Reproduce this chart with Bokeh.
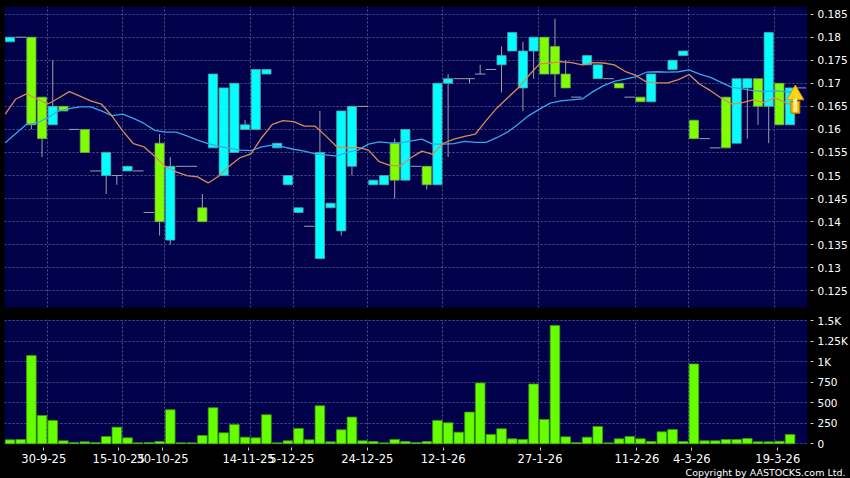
from bokeh.plotting import figure
from bokeh.layouts import column
from bokeh.models import Range1d, FixedTicker, Title, BoxAnnotation
from bokeh.embed import file_html
from bokeh.resources import INLINE

nan = float("nan")
opens = [.179,.18,.18,.167,.161,.165,.16,.16,.151,.15,.15,.151,.151,.142,.157,.136,.152,.152,.143,.156,
         .15,.155,.16,.16,.172,.156,.148,.142,.139,.132,.143,.138,.152,.165,.148,.148,.157,.149,.152,.152,
         .148,.17,.171,.171,.172,.173,.174,.177,.169,.177,.18,.178,.172,.167,.174,.171,.171,.17,.167,.167,
         .166,nan,.173,.176,.162,.158,.156,.167,.157,.169,.171,.165,.17,.161,.169]
closes = [.18,.18,.161,.158,.165,.164,.16,.155,.151,.155,.15,.152,.151,.142,.14,.152,.152,.152,.14,.172,
          .169,.17,.161,.173,.173,.157,.15,.143,.139,.155,.144,.164,.165,.165,.149,.15,.149,.16,.152,.148,
          .17,.171,.171,.171,.172,.173,.176,.181,.177,.18,.172,.172,.169,.167,.176,.174,.171,.169,.167,.166,
          .172,nan,.175,.177,.158,.158,.156,.156,.171,.171,.165,.181,.161,.169,.169]
highs = [.18,.18,.18,.167,.175,.165,.16,.16,.151,.155,.15,.152,.151,.142,.159,.154,.152,.152,.146,.172,
         .169,.17,.162,.173,.173,.157,.15,.143,.139,.164,.144,.164,.165,.165,.149,.15,.158,.16,.152,.152,
         .17,.172,.171,.171,.174,.173,.178,.181,.179,.18,.18,.184,.175,.167,.176,.174,.171,.17,.167,.167,
         .172,nan,.175,.177,.162,.158,.156,.167,.171,.171,.171,.181,.17,.169,.169]
lows = [.179,.18,.16,.154,.161,.164,.16,.155,.151,.146,.148,.151,.151,.142,.137,.135,.152,.152,.14,.156,
        .15,.155,.16,.16,.172,.156,.148,.142,.139,.132,.143,.137,.15,.165,.148,.148,.145,.149,.152,.147,
        .148,.154,.171,.17,.172,.173,.168,.177,.164,.171,.172,.167,.169,.167,.174,.171,.171,.169,.167,.166,
        .166,nan,.173,.176,.158,.158,.156,.156,.157,.158,.161,.157,.161,.161,.169]
ma_fast = [.1633,.1666,.1677,.1666,.1655,.1668,.1682,.1672,.1662,.1655,.1629,.1597,.1569,.1562,.1542,.1519,
           .1508,.1500,.1497,.1484,.1499,.1521,.1539,.1547,.1582,.1611,.1619,.1617,.1607,.1607,.1586,.1563,
           .1560,.1561,.1555,.1530,.1522,.1521,.1539,.1553,.1546,.1570,.1579,.1585,.1590,.1619,.1646,.1668,
           .1690,.1717,.1742,.1744,.1747,.1745,.1740,.1745,.1744,.1740,.1726,.1717,.1703,.1701,.1701,.1708,
           .1719,.1698,.1684,.1668,.1655,.1658,.1664,.1658,.1669,.1658,.1651]
ma_slow = [.1571,.1591,.1611,.1614,.1626,.1640,.1645,.1649,.1649,.1640,.1630,.1633,.1624,.1613,.1598,.1594,
           .1594,.1586,.1577,.1569,.1563,.1559,.1555,.1554,.1562,.1566,.1562,.1557,.1553,.1547,.1545,.1542,
           .1550,.1555,.1568,.1573,.1571,.1571,.1575,.1579,.1568,.1568,.1569,.1574,.1572,.1572,.1582,.1594,
           .1611,.1630,.1644,.1657,.1662,.1664,.1666,.1682,.1695,.1704,.1709,.1714,.1724,.1725,.1724,.1725,
           .1729,.1720,.1713,.1702,.1691,.1688,.1684,.1682,.1684,.1682,.1680]
volumes = [49,53,1073,345,285,37,16,24,16,90,203,73,12,16,28,415,12,12,102,439,134,236,81,73,354,12,37,187,
           49,463,24,171,325,37,28,12,53,28,16,28,285,256,142,386,740,114,183,61,53,728,297,1439,85,16,81,
           211,12,61,90,61,28,146,175,28,972,37,37,53,53,65,24,24,32,114]
price_ticks = [.125,.13,.135,.14,.145,.15,.155,.16,.165,.17,.175,.18,.185]
price_labels = ["0.125","0.13","0.135","0.14","0.145","0.15","0.155","0.16","0.165","0.17","0.175","0.18","0.185"]
vol_ticks = [0,250,500,750,1000,1250,1500]
vol_labels = ["0","250","500","750","1K","1.25K","1.5K"]
date_ticks = [3.16,10.17,14.28,22.32,26.37,33.44,40.54,49.6,58.67,63.8,71.85]
date_labels = ["30-9-25","15-10-25","30-10-25","14-11-25","5-12-25","24-12-25","12-1-26","27-1-26","11-2-26","4-3-26","19-3-26"]
grid_bars = [4,11,15,23,27,34,41,50,59,64,72]

NAVY = "#00004b"
GRID = "#50508c"
CYAN = "#00ffff"
GREEN = "#80ff00"
XR = (-0.514, 74.63)


def style(p, ticks, labels):
    p.background_fill_color = None
    p.border_fill_color = None
    p.outline_line_color = None
    p.add_layout(BoxAnnotation(fill_color=NAVY, fill_alpha=1, line_color=None, level="image"))
    p.xgrid.ticker = FixedTicker(ticks=[b - 0.5 for b in grid_bars])
    p.xgrid.grid_line_color = GRID
    p.xgrid.grid_line_dash = "2 2"
    p.ygrid.grid_line_color = GRID
    p.ygrid.grid_line_dash = "2 2"
    ax = p.yaxis[0]
    ax.ticker = FixedTicker(ticks=ticks)
    ax.major_label_overrides = dict(zip(ticks, labels))
    ax.axis_line_color = None
    ax.minor_tick_line_color = None
    ax.major_tick_in = -3
    ax.major_tick_out = 6
    ax.major_tick_line_color = "#cccccc"
    ax.major_label_standoff = 4
    ax.major_label_text_color = "white"
    ax.major_label_text_font = "DejaVu Sans"
    ax.major_label_text_font_size = "10.5px"


main = figure(width=850, height=314, output_backend="svg", toolbar_location=None,
              x_range=Range1d(*XR), y_range=Range1d(0.12139, 0.18665), y_axis_location="right",
              min_border_left=4, min_border_right=42, min_border_top=6, min_border_bottom=7,
              styles={"background": "black"})
style(main, price_ticks, price_labels)
main.xaxis.visible = False

idx = list(range(len(opens)))
main.segment(idx, lows, idx, highs, line_color="#a0a0a8", line_width=1)
doji = [i for i in idx if opens[i] == closes[i]]
main.segment([i - 0.5 for i in doji], [opens[i] for i in doji], [i + 0.5 for i in doji], [opens[i] for i in doji],
             line_color="#a0a0a8", line_width=1)
up = [i for i in idx if closes[i] > opens[i]]
down = [i for i in idx if closes[i] < opens[i]]
main.vbar(up, width=0.86, bottom=[opens[i] for i in up], top=[closes[i] for i in up],
          fill_color=CYAN, line_color="#5f9ea0", line_width=0.8)
main.vbar(down, width=0.86, bottom=[closes[i] for i in down], top=[opens[i] for i in down],
          fill_color=GREEN, line_color="#6f9f5f", line_width=0.8)
ma_x = [k - 0.45 for k in range(len(ma_fast))]
main.line(ma_x, ma_slow, line_color="#35a8e8", line_width=1.3)
main.line(ma_x, ma_fast, line_color="#d88a58", line_width=1.3)

# last-price arrow, anchored on the last bar
ax_x = idx[-1] - 0.51
ax_y = closes[-1]
main.rect([ax_x], [ax_y - 0.0042], width=9, height=12, width_units="screen", height_units="screen",
          fill_color="#f2b800", line_color="#b08000", line_width=1)
main.scatter([ax_x], [ax_y - 0.0015], marker="triangle", size=17, fill_color="#ffd21a",
             line_color="#d09800", line_width=1)
main.rect([ax_x], [ax_y - 0.0038], width=4, height=13, width_units="screen", height_units="screen",
          fill_color="#ffe98a", line_color=None)

vol = figure(width=850, height=164, output_backend="svg", toolbar_location=None,
             x_range=Range1d(*XR), y_range=Range1d(-8, 1512), y_axis_location="right",
             min_border_left=4, min_border_right=42, min_border_top=5, min_border_bottom=34,
             styles={"background": "black"})
style(vol, vol_ticks, vol_labels)
vol.vbar(list(range(len(volumes))), width=0.9, top=volumes, bottom=0, fill_color="#66ff00",
         line_color="#3a9a10", line_width=0.8)
xa = vol.xaxis[0]
xa.ticker = FixedTicker(ticks=date_ticks)
xa.major_label_overrides = dict(zip(date_ticks, date_labels))
xa.axis_line_color = None
xa.minor_tick_line_color = None
xa.major_tick_in = -3
xa.major_tick_out = 6
xa.major_tick_line_color = "#cccccc"
xa.major_label_standoff = 3
xa.major_label_text_color = "white"
xa.major_label_text_font = "DejaVu Sans"
xa.major_label_text_font_size = "11.5px"

vol.add_layout(Title(text="Copyright by AASTOCKS.com Ltd.", align="right", offset=-38, standoff=-2,
                     text_color="white", text_font="DejaVu Sans", text_font_size="9.5px",
                     text_font_style="normal"), "below")

page = column(main, vol, spacing=0, styles={"position": "fixed", "left": "0px", "top": "0px", "background": "black"})
open("out.html", "w").write(file_html(page, INLINE))
